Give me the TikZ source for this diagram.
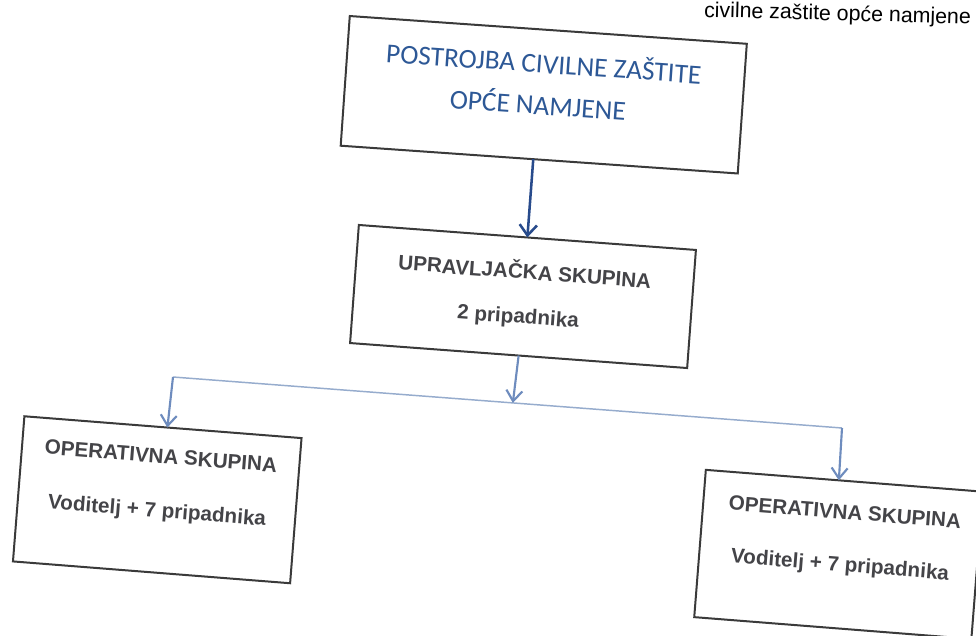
\documentclass[tikz,border=0pt]{standalone}
\usepackage{fontspec}
\setmainfont{Liberation Sans}
\newfontfamily\calibrifont{Carlito}
\usetikzlibrary{arrows.meta,calc}
\definecolor{boxline}{RGB}{58,58,58}
\definecolor{titleblue}{RGB}{45,88,150}
\definecolor{darkarrow}{RGB}{40,75,140}
\definecolor{lightarrow}{RGB}{110,140,190}
\definecolor{busline}{RGB}{150,172,205}
\definecolor{boldgray}{RGB}{68,68,72}
\begin{document}
\begin{tikzpicture}[x=0.75pt,y=-0.75pt,
  boxshape/.style={draw=boxline,line width=1.5pt,inner sep=0pt,outer sep=0pt,rectangle},
  titletext/.style={font=\calibrifont\fontsize{20.5}{24}\selectfont,text=titleblue,inner sep=0pt},
  boldtext/.style={font=\fontsize{15.5}{18}\selectfont\bfseries,text=boldgray,inner sep=0pt},
  mainarrow/.style={draw=darkarrow,line width=1.9pt,-{Straight Barb[length=8pt,width=13pt]}},
  subarrow/.style={draw=lightarrow,line width=1.6pt,-{Straight Barb[length=8pt,width=12pt]}},
  busstyle/.style={draw=busline,line width=1.1pt}
]
\useasboundingbox (0,0) rectangle (976,636);
\clip (0,0) rectangle (976,636);
\fill[white] (0,0) rectangle (976,636);

% caption fragment at top
\node[anchor=base east,rotate=-1.5,font=\fontsize{16}{19}\selectfont,inner sep=0pt] (cap) at (971,24) {civilne zaštite opće namjene};

% boxes
\node[boxshape,rotate=-4,minimum width=298.5pt,minimum height=97.5pt] (b1) at (543.75,94.75) {};
\node[boxshape,rotate=-4.24,minimum width=253.5pt,minimum height=88.8pt] (b2) at (523,296.5) {};
\node[boxshape,rotate=-4.5,minimum width=208.5pt,minimum height=109.2pt] (b3) at (157.25,499.75) {};
\node[boxshape,rotate=-4.5,minimum width=208.5pt,minimum height=110.8pt] (b4) at (838.6,554.4) {};

% texts
\node[titletext,rotate=-4] (t1a) at (544,62) {POSTROJBA CIVILNE ZAŠTITE};
\node[titletext,rotate=-4] (t1b) at (538,103) {OPĆE NAMJENE};
\node[boldtext,rotate=-4.2] (t2a) at (525,270) {UPRAVLJAČKA SKUPINA};
\node[boldtext,rotate=-4.2] (t2b) at (518,318) {2 pripadnika};
\node[boldtext,rotate=-4.5] (t3a) at (161,456) {OPERATIVNA SKUPINA};
\node[boldtext,rotate=-4.5] (t3b) at (157,512) {Voditelj + 7 pripadnika};
\node[boldtext,rotate=-4.5] (t4a) at (845,512) {OPERATIVNA SKUPINA};
\node[boldtext,rotate=-4.5] (t4b) at (840,566) {Voditelj + 7 pripadnika};

% connectors
\draw[mainarrow] ($(b1.south west)!0.485!(b1.south east)$) -- (b2.north);
\coordinate (bl) at (173,377);
\coordinate (br) at (842,428);
\coordinate (bc) at ($(bl)!0.508!(br)$);
\draw[busstyle] (bl) -- (br);
\draw[subarrow] (b2.south) -- (bc);
\draw[subarrow] (bl) -- ($(b3.north west)!0.516!(b3.north east)$);
\draw[subarrow] (br) -- ($(b4.north west)!0.48!(b4.north east)$);
\end{tikzpicture}
\end{document}
